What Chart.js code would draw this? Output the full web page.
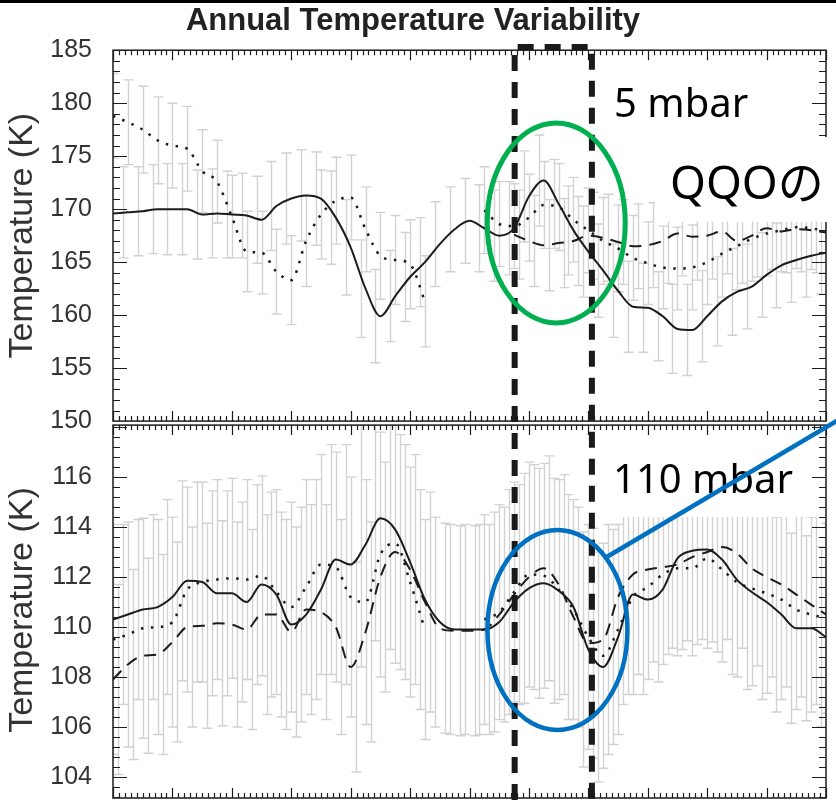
<!DOCTYPE html>
<html>
<head>
<meta charset="utf-8">
<script src="https://cdn.jsdelivr.net/npm/chart.js@4/dist/chart.umd.min.js"></script>
<style>
  html, body { margin: 0; padding: 0; background: #fff; }
  #wrap { width: 836px; height: 800px; }
</style>
</head>
<body>
<div id="wrap"><canvas id="chart"></canvas></div>
<script>
'use strict';

// x axis: months through the year
const months = [0,0.25,0.5,0.75,1,1.25,1.5,1.75,2,2.25,2.5,2.75,3,3.25,3.5,3.75,4,4.25,4.5,4.75,5,5.25,5.5,5.75,6,
  6.25,6.5,6.75,7,7.25,7.5,7.75,8,8.25,8.5,8.75,9,9.25,9.5,9.75,10,10.25,10.5,10.75,11,11.25,11.5,11.75,12];

const topTicks = [150, 155, 160, 165, 170, 175, 180, 185];
const botTicks = [104, 106, 108, 110, 112, 114, 116];
const markerMonths = [6.76, 8.06];   // dashed window

// 5 mbar panel
const topSolid = [169.6,169.7,169.8,170.0,170.0,170.0,169.5,169.6,169.5,169.4,169.0,170.3,171.0,171.3,171.0,169.2,166.4,162.5,159.9,161.8,
  163.6,165.0,166.7,168.1,168.9,168.2,167.5,168.2,171.2,172.7,170.5,168.0,166.0,164.2,162.3,160.8,160.7,159.9,158.7,158.6,
  159.9,161.3,162.2,162.7,163.8,164.7,165.2,165.6,165.9];
const topDotted = [178.8,178.2,177.5,176.5,176.0,175.7,173.6,172.6,169.3,166.0,165.9,164.1,163.3,167.0,169.5,170.8,171.1,168.1,165.6,165.2,
  164.8,161.3,null,null,null,169.9,168.6,168.4,169.2,170.4,170.2,169.0,168.0,167.0,166.3,165.4,164.9,164.5,164.4,164.5,
  165.0,165.8,166.5,167.2,167.7,168.0,168.3,168.2,167.9];
const topDashed = [null,null,null,null,null,null,null,null,null,null,null,null,null,null,null,null,null,null,null,null,
  null,null,null,null,null,null,null,167.6,167.0,166.6,166.8,167.0,167.5,167.3,166.9,166.5,166.6,167.0,167.7,167.4,
  167.5,167.9,167.0,167.5,168.2,167.9,168.1,168.0,167.8];
const topSolidErr = [4.3,4.3,4.2,4.2,4.3,4.3,4.2,4.2,4.1,4.0,4.1,4.2,4.3,4.3,4.4,4.4,4.5,4.6,4.4,4.3,
  4.2,4.2,4.0,4.0,4.0,4.1,4.3,4.4,4.3,4.3,4.2,4.2,4.3,4.4,4.4,4.3,4.2,4.2,4.2,4.3,
  4.3,4.2,4.1,4.0,4.0,4.0,4.0,3.9,3.9];
const topDottedErr = [4.0,4.0,4.1,4.1,4.0,4.0,3.9,3.9,3.9,3.8,3.9,4.0,4.2,4.3,4.2,4.1,4.0,4.0,4.1,4.2,
  4.2,4.3,null,null,null,4.1,4.0,4.0,4.1,4.1,4.1,4.0,4.0,4.1,4.1,4.0,3.9,3.9,3.9,4.0,
  4.0,4.1,4.1,4.0,4.0,3.9,3.9,3.9,3.9];
const topDashedErr = [null,null,null,null,null,null,null,null,null,null,null,null,null,null,null,null,null,null,null,null,
  null,null,null,null,null,null,null,4.2,4.3,4.3,4.2,4.2,4.1,4.1,4.0,4.0,4.0,4.0,4.0,4.1,
  4.1,4.0,4.0,3.9,3.9,3.9,4.0,4.0,4.0];

// 110 mbar panel
const botSolid = [110.3,110.5,110.7,110.8,111.2,111.85,111.8,111.35,111.35,111.0,111.7,111.3,110.1,110.5,111.5,112.7,112.5,113.3,114.35,113.9,
  112.6,111.1,110.2,109.9,109.9,109.9,110.2,111.0,111.55,111.75,111.45,110.8,109.1,108.4,109.6,111.3,111.1,111.5,112.75,113.05,
  113.1,112.7,111.9,111.4,111.0,110.5,109.95,109.95,109.6];
const botDotted = [109.5,109.7,109.95,110.0,110.2,111.5,111.8,111.9,111.95,111.9,112.05,111.4,110.8,111.6,112.5,112.4,111.2,111.0,112.9,113.35,
  111.8,109.9,null,null,null,110.3,110.6,111.4,112.1,112.05,111.5,110.7,109.6,108.85,109.9,111.2,111.6,112.1,112.35,112.35,
  112.75,112.3,111.8,111.55,111.35,111.1,110.7,110.5,110.35];
const botDashed = [107.9,108.5,108.85,108.9,109.4,110.0,110.05,110.15,110.1,109.9,110.5,110.5,109.8,110.7,110.6,110.0,108.4,109.8,112.0,113.0,
  112.3,111.0,109.95,109.85,109.85,109.9,110.5,111.3,112.0,112.35,111.7,110.4,109.35,109.5,111.2,112.1,112.3,112.4,112.5,112.8,
  113.0,113.2,112.95,112.35,112.0,111.7,111.3,110.9,110.5];
const botSolidErr = [3.6,3.6,3.6,3.7,3.9,4.0,4.0,4.1,4.1,4.0,4.0,4.1,4.2,4.3,4.4,4.6,4.8,4.9,4.9,4.8,
  4.7,4.4,4.2,4.2,4.2,4.2,4.4,4.5,4.6,4.6,4.5,4.5,4.7,4.6,4.3,4.0,3.8,3.7,3.6,3.6,
  3.6,3.7,3.8,3.9,3.9,3.9,3.8,3.7,3.6];
const botDottedErr = [4.6,4.5,4.4,4.3,4.2,4.1,4.0,4.0,4.0,4.0,4.0,4.1,4.2,4.3,4.4,4.6,4.8,4.9,4.9,4.8,
  4.6,4.4,null,null,null,4.2,4.3,4.4,4.5,4.5,4.4,4.4,4.5,4.5,4.2,3.9,3.7,3.6,3.5,3.5,
  3.6,3.7,3.8,3.9,4.0,4.0,4.0,3.9,3.8];
const botDashedErr = [3.8,3.8,3.9,4.0,4.0,4.0,4.1,4.1,4.1,4.0,4.0,4.1,4.2,4.2,4.3,4.3,4.2,4.4,4.6,4.7,
  4.6,4.4,4.2,4.2,4.2,4.2,4.3,4.4,4.5,4.5,4.4,4.4,4.6,4.6,4.3,4.0,3.7,3.5,3.4,3.5,
  3.6,3.7,3.8,3.9,4.0,4.1,4.1,4.0,3.9];

const sans = '"Liberation Sans", Arial, Helvetica, sans-serif';
const ink = '#1c1c1c';

function pts(vals) {
  return vals.map((v, i) => ({ x: months[i], y: v }));
}

function series(vals, errs, axis, dash, width, dodge) {
  return {
    data: pts(vals),
    errors: errs,
    dodge: dodge,
    yAxisID: axis,
    borderColor: ink,
    borderWidth: width,
    borderDash: dash,
    pointRadius: 0,
    cubicInterpolationMode: 'monotone',
    spanGaps: false,
    fill: false
  };
}

// panel frame for a y scale (bottom panel sits a few px below the top one)
function panelBox(chart, ys) {
  const a = chart.chartArea;
  const top = ys.id === 'yBot' ? ys.top + 4 : ys.top;
  const bottom = ys.id === 'yBot' ? ys.bottom - 1 : ys.bottom;
  return { left: a.left, right: a.right, top: top, bottom: bottom };
}

// grey error bars, drawn under the lines
const errorBars = {
  id: 'errorBars',
  beforeDatasetsDraw(chart) {
    const ctx = chart.ctx;
    const xs = chart.scales.x;
    chart.data.datasets.forEach(ds => {
      const ys = chart.scales[ds.yAxisID];
      const box = panelBox(chart, ys);
      ctx.save();
      ctx.beginPath();
      ctx.rect(box.left, box.top, box.right - box.left, box.bottom - box.top);
      ctx.clip();
      ctx.strokeStyle = '#d2d2d2';
      ctx.lineWidth = 1.4;
      ds.data.forEach((p, i) => {
        const e = ds.errors[i];
        if (p.y == null || e == null) return;
        const x = Math.round(xs.getPixelForValue(p.x)) + ds.dodge + 0.5;
        const yHi = ys.getPixelForValue(p.y + e);
        const yLo = ys.getPixelForValue(p.y - e);
        ctx.beginPath();
        ctx.moveTo(x, yHi); ctx.lineTo(x, yLo);
        ctx.moveTo(x - 5, yHi); ctx.lineTo(x + 5, yHi);
        ctx.moveTo(x - 5, yLo); ctx.lineTo(x + 5, yLo);
        ctx.stroke();
      });
      ctx.restore();
    });
  }
};

// boxed panels with inward ticks on all four sides
function drawPanel(ctx, chart, ys, ticks) {
  const xs = chart.scales.x;
  const b = panelBox(chart, ys);
  ctx.strokeStyle = ink;
  ctx.lineWidth = 1.5;
  ctx.strokeRect(b.left, b.top, b.right - b.left, b.bottom - b.top);
  ctx.lineWidth = 1.2;
  ctx.beginPath();
  const major = ticks[1] - ticks[0];
  const minor = major / 5;
  for (let v = Math.ceil(ys.min / minor) * minor; v <= ys.max + 1e-9; v += minor) {
    const py = Math.round(ys.getPixelForValue(v)) + 0.5;
    if (py < b.top || py > b.bottom) continue;
    const isMajor = Math.abs(v / major - Math.round(v / major)) < 1e-6;
    const len = isMajor ? 14 : 7;
    ctx.moveTo(b.left, py); ctx.lineTo(b.left + len, py);
    ctx.moveTo(b.right, py); ctx.lineTo(b.right - len, py);
  }
  for (let i = 0; i <= 120; i++) {
    const px = Math.round(xs.getPixelForValue(i / 10)) + 0.5;
    const len = i % 10 === 0 ? 10 : 5;
    ctx.moveTo(px, b.top); ctx.lineTo(px, b.top + len);
    ctx.moveTo(px, b.bottom); ctx.lineTo(px, b.bottom - len);
  }
  ctx.stroke();
}

const frames = {
  id: 'frames',
  afterDatasetsDraw(chart) {
    const ctx = chart.ctx;
    ctx.save();
    // label patch behind "110 mbar", under the frame so the axis stays visible
    ctx.fillStyle = '#fff';
    ctx.fillRect(597, 426, 229, 91);
    drawPanel(ctx, chart, chart.scales.yTop, topTicks);
    drawPanel(ctx, chart, chart.scales.yBot, botTicks);
    ctx.restore();
  }
};

// slide annotations: labels, circles, dashed window, pointer
const overlay = {
  id: 'overlay',
  afterDraw(chart) {
    const ctx = chart.ctx;
    const xs = chart.scales.x, yT = chart.scales.yTop, yB = chart.scales.yBot;
    ctx.save();
    ctx.fillStyle = '#000';
    ctx.fillRect(0, 0, 836, 3);

    ctx.fillStyle = '#fff';
    ctx.fillRect(655, 137, 181, 85);

    ctx.fillStyle = '#000';
    ctx.textBaseline = 'alphabetic';
    ctx.font = '40px "Noto Sans", "Open Sans", sans-serif';
    ctx.fillText('5 mbar', 614, 117);
    ctx.fillText('110 mbar', 613, 493);
    ctx.font = '46px "Noto Sans", "Noto Sans CJK JP", sans-serif';
    ctx.fillText('QQOの', 670, 199);

    const xl = xs.getPixelForValue(markerMonths[0]);
    const xr = xs.getPixelForValue(markerMonths[1]);
    ctx.strokeStyle = '#1a1a1a';
    ctx.lineWidth = 6;
    ctx.setLineDash([16, 11]);
    ctx.beginPath();
    ctx.moveTo(xl, 800); ctx.lineTo(xl, 47); ctx.lineTo(xr, 47); ctx.lineTo(xr, 800);
    ctx.stroke();
    ctx.setLineDash([]);

    ctx.lineWidth = 5;
    ctx.strokeStyle = '#00b050';
    ctx.beginPath();
    ctx.ellipse(xs.getPixelForValue(7.46), yT.getPixelForValue(168.7), 69, 100, 0, 0, Math.PI * 2);
    ctx.stroke();

    ctx.lineWidth = 4.5;
    ctx.strokeStyle = '#0070c0';
    ctx.beginPath();
    ctx.ellipse(xs.getPixelForValue(7.48), yB.getPixelForValue(109.88), 70, 100, 0, 0, Math.PI * 2);
    ctx.stroke();

    ctx.beginPath();
    ctx.moveTo(605, 558); ctx.lineTo(850, 413);
    ctx.stroke();
    ctx.restore();
  }
};

const tickFont = { family: sans, size: 25 };
const titleFont = { family: sans, size: 34 };

function yAxis(min, max, weight, tickVals) {
  return {
    type: 'linear',
    position: 'left',
    stack: 'panels',
    stackWeight: weight,
    min: min,
    max: max,
    afterBuildTicks: s => { s.ticks = tickVals.map(v => ({ value: v })); },
    afterFit: s => { s.width = 113; s.paddingTop = 0; s.paddingBottom = 0; },
    grid: { display: false },
    border: { display: false },
    ticks: { font: tickFont, color: '#333', padding: 13, autoSkip: false },
    title: { display: true, text: 'Temperature (K)', color: '#333', font: titleFont, padding: { top: 2, bottom: 0 } }
  };
}

new Chart(document.getElementById('chart'), {
  type: 'line',
  data: {
    datasets: [
      series(topSolid, topSolidErr, 'yTop', [], 2, -5),
      series(topDotted, topDottedErr, 'yTop', [2.5, 7.5], 2.5, 0),
      series(topDashed, topDashedErr, 'yTop', [12, 8], 2, 5),
      series(botSolid, botSolidErr, 'yBot', [], 2, -5),
      series(botDotted, botDottedErr, 'yBot', [2.5, 7.5], 2.5, 0),
      series(botDashed, botDashedErr, 'yBot', [12, 8], 2, 5)
    ]
  },
  options: {
    responsive: true,
    maintainAspectRatio: false,
    devicePixelRatio: 1,
    animation: false,
    layout: { padding: { left: 0, right: 10, top: 0, bottom: 1 } },
    plugins: {
      legend: { display: false },
      tooltip: { enabled: false },
      title: {
        display: true,
        text: 'Annual Temperature Variability',
        color: '#222',
        font: { family: sans, size: 31, weight: 'bold' },
        padding: { top: 3, bottom: 10 }
      }
    },
    scales: {
      x: { type: 'linear', min: 0, max: 12, display: false },
      yBot: yAxis(103.12, 118.24, 378, botTicks),
      yTop: yAxis(150, 185, 371, topTicks)
    }
  },
  plugins: [errorBars, frames, overlay]
});
</script>
</body>
</html>
